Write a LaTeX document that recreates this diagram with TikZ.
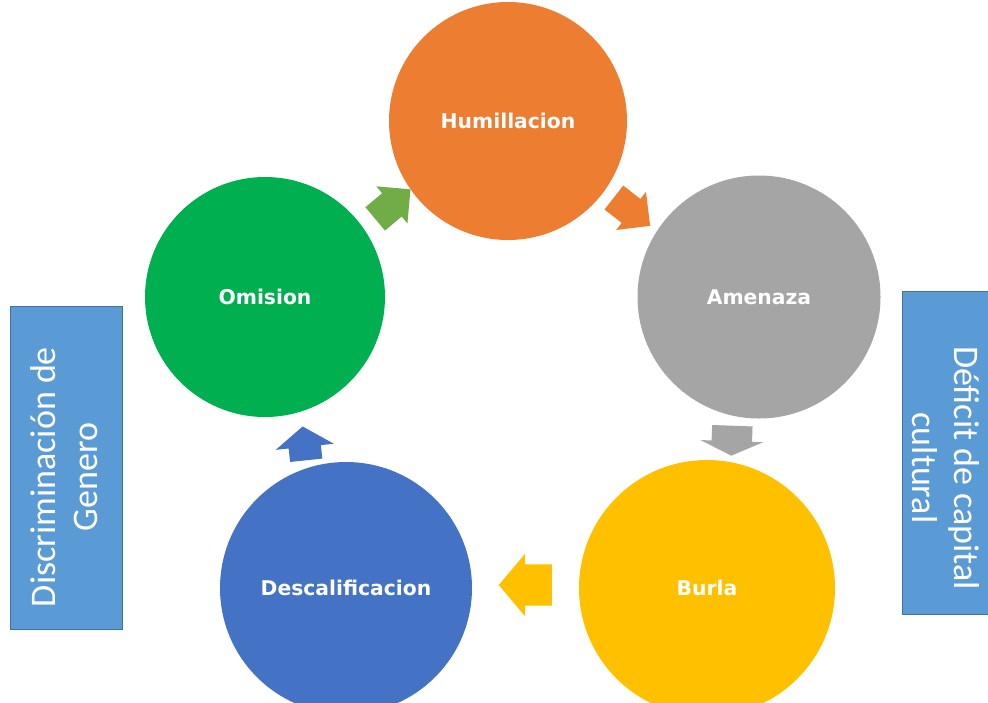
\documentclass[tikz,border=0pt]{standalone}
\usepackage{fontspec}
\setmainfont{Carlito}
\newfontfamily\lblfont{DejaVu Sans}
\usetikzlibrary{shapes.arrows}
\definecolor{corange}{HTML}{ED7D31}
\definecolor{cgray}{HTML}{A5A5A5}
\definecolor{cyellow}{HTML}{FFC000}
\definecolor{cblue}{HTML}{4472C4}
\definecolor{cgreen}{HTML}{00B050}
\definecolor{agreen}{HTML}{70AD47}
\definecolor{boxblue}{HTML}{5B9BD5}
\definecolor{boxedge}{HTML}{41719C}
\tikzset{
  stage/.style={circle, fill=#1, draw=none, inner sep=0pt, text=white,
    font=\lblfont\bfseries\fontsize{20.3}{24}\selectfont},
  cyc/.style={single arrow, fill=#1, draw=none, inner xsep=0pt, inner ysep=15pt,
    minimum height=46, minimum width=48, single arrow head extend=9},
  sidebox/.style={rectangle, fill=boxblue, draw=boxedge, line width=0.8pt,
    inner sep=0pt},
  sidetext/.style={text=white, align=center, inner sep=0pt,
    font=\fontsize{36}{42}\selectfont}
}
\begin{document}
\begin{tikzpicture}[x=1pt,y=-1pt]
\useasboundingbox (0,0) rectangle (988,702);
\fill[white] (0,0) rectangle (988,702);
\begin{scope}
\clip (0,0) rectangle (988,702);
\node[stage=corange, minimum size=238] (hum) at (508,121) {Humillacion};
\node[stage=cgray, minimum size=243] (ame) at (759,297) {Amenaza};
\node[stage=cyellow, minimum size=256] (bur) at (707,588) {Burla};
\node[stage=cblue, minimum size=252] (des) at (346,588) {Descalificacion};
\node[stage=cgreen, minimum size=240] (omi) at (265,297) {Omision};
\end{scope}
\node[cyc=corange, rotate=-38] (a1) at (626,207) {};
\node[cyc=cgray, rotate=-92, minimum height=30, minimum width=62, inner ysep=20pt, single arrow head extend=11, single arrow tip angle=130] (a2) at (732,436) {};
\node[cyc=cyellow, rotate=180, minimum height=53, minimum width=62, inner ysep=20.5pt, single arrow head extend=10.5, single arrow tip angle=100] (a3) at (534,585) {};
\node[cyc=cblue, rotate=96, minimum height=34, minimum width=58, inner ysep=16pt, single arrow head extend=13, single arrow tip angle=110] (a4) at (305,449) {};
\node[cyc=agreen, rotate=40] (a5) at (387,209) {};
\node[sidebox, minimum width=112, minimum height=323] (left) at (66,468) {};
\node[sidetext, rotate=90] (lt) at ([shift={(-2,9)}]left.center) {Discriminación de\\Genero};
\node[sidebox, minimum width=88, minimum height=323] (right) at (946,453) {};
\node[sidetext, rotate=-90] (rt) at ([shift={(0,15)}]right.center) {Déficit de capital\\cultural};
\end{tikzpicture}
\end{document}
